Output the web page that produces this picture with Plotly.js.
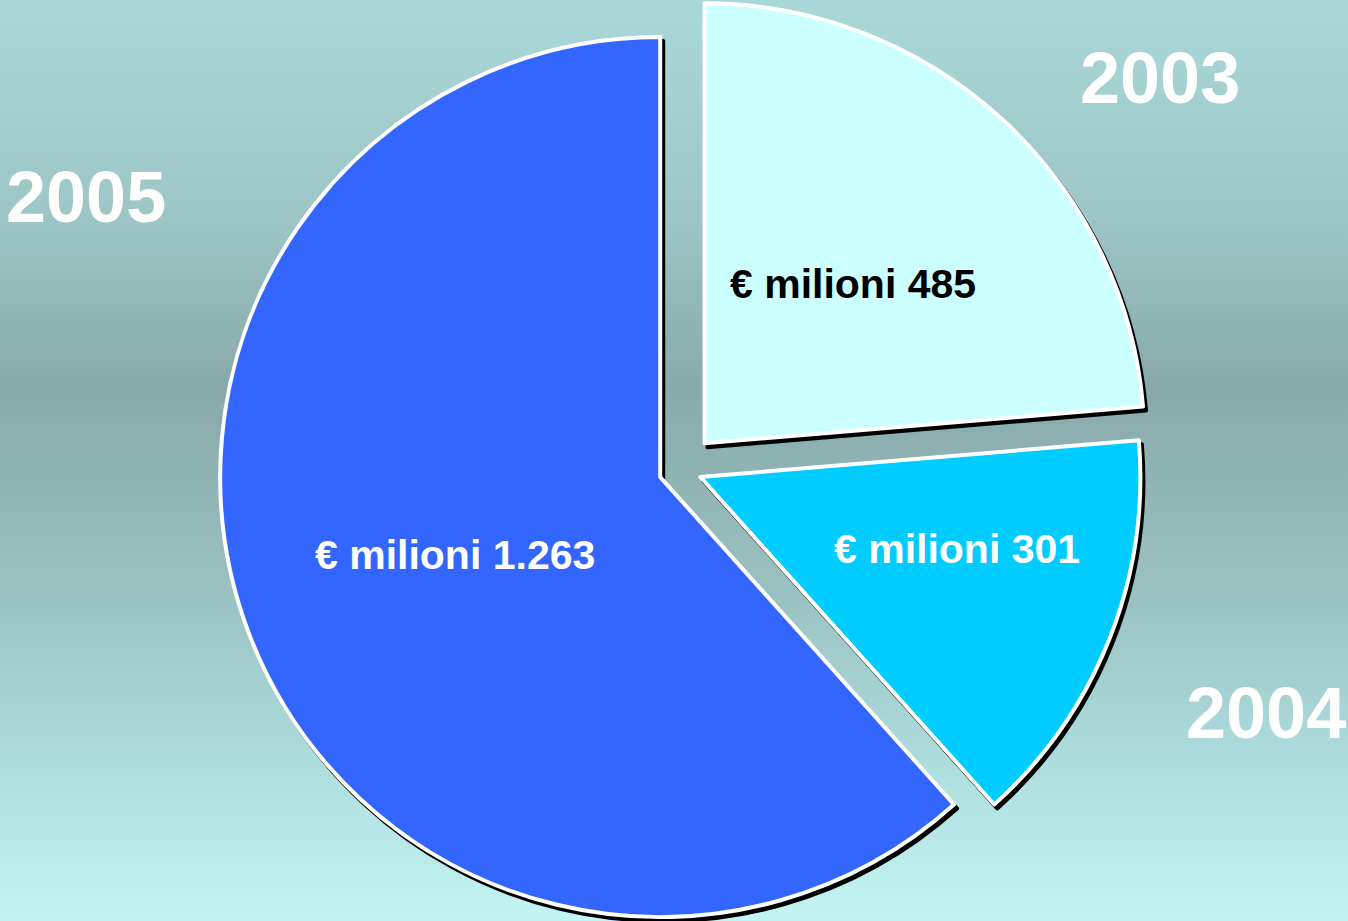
<!DOCTYPE html>
<html>
<head>
<meta charset="utf-8">
<script src="https://cdn.plot.ly/plotly-3.0.1.min.js"></script>
<style>
  html, body { margin: 0; padding: 0; width: 1348px; height: 921px; overflow: hidden; }
  body {
    background: linear-gradient(to bottom, #aad8d8 0%, #9cc4c4 25%, #88a9a9 42%, #9bc2c2 65%, #b0e0e0 85%, #c3f5f2 100%);
  }
  #chart { position: absolute; left: 0; top: -6px; width: 1348px; height: 960px; }
</style>
</head>
<body>
<div id="chart"></div>
<script>
// Pie of yearly amounts (€ milioni), 2003-2005, exploded slices with drop shadow.
const years = ["2003", "2004", "2005"];
const values = [485, 301, 1263];
const sliceColors = ["#ccffff", "#00ccff", "#3366ff"];
const innerTextColors = ["#000000", "#ffffff", "#ffffff"];
const pulls = [0.08, 0.048, 0.05];

const W = 1348, H = 960, TOP = -6;
const FONT = "Liberation Sans, Arial, sans-serif";

// Italian thousands separator: 1263 -> 1.263
function itNum(v) {
  return String(v).replace(/\B(?=(\d{3})+(?!\d))/g, ".");
}

// screen px -> paper coords of the (shifted) plot div
function px(x) { return x / W; }
function py(y) { return 1 - (y - TOP) / H; }

const dom = { x: [0.15, 0.86], y: [0.01, 1] };
const sdx = 3 / W, sdy = 4 / H;

const shadow = {
  type: "pie", values: values, labels: years, sort: false, direction: "clockwise", rotation: 0,
  pull: pulls, textinfo: "none", hoverinfo: "skip", showlegend: false,
  marker: { colors: years.map(() => "#000000"), line: { color: "#000000", width: 4 } },
  domain: { x: [dom.x[0] + sdx, dom.x[1] + sdx], y: [dom.y[0] - sdy, dom.y[1] - sdy] },
};

const pie = {
  type: "pie", values: values, labels: years, sort: false, direction: "clockwise", rotation: 0,
  pull: pulls, textinfo: "none", showlegend: false,
  marker: { colors: sliceColors, line: { color: "#ffffff", width: 4 } },
  domain: dom,
};

// label positions (screen px)
const yearPos = [[1160, 78], [1266, 713], [86, 197]];
const innerPos = [[853, 284], [957, 549], [455, 555]];

const annotations = [];
years.forEach((yr, i) => {
  annotations.push({
    xref: "paper", yref: "paper", x: px(yearPos[i][0]), y: py(yearPos[i][1]),
    text: "<b>" + yr + "</b>", showarrow: false, xanchor: "center", yanchor: "middle",
    font: { family: FONT, size: 72, color: "#ffffff" },
  });
  annotations.push({
    xref: "paper", yref: "paper", x: px(innerPos[i][0]), y: py(innerPos[i][1]),
    text: "<b>€ milioni " + itNum(values[i]) + "</b>", showarrow: false, xanchor: "center", yanchor: "middle",
    font: { family: FONT, size: 41, color: innerTextColors[i] },
  });
});

const layout = {
  width: W, height: H,
  margin: { l: 0, r: 0, t: 0, b: 0 },
  paper_bgcolor: "rgba(0,0,0,0)",
  plot_bgcolor: "rgba(0,0,0,0)",
  font: { family: FONT },
  showlegend: false,
  annotations: annotations,
};

Plotly.newPlot("chart", [shadow, pie], layout, { displayModeBar: false, staticPlot: true });
</script>
</body>
</html>
